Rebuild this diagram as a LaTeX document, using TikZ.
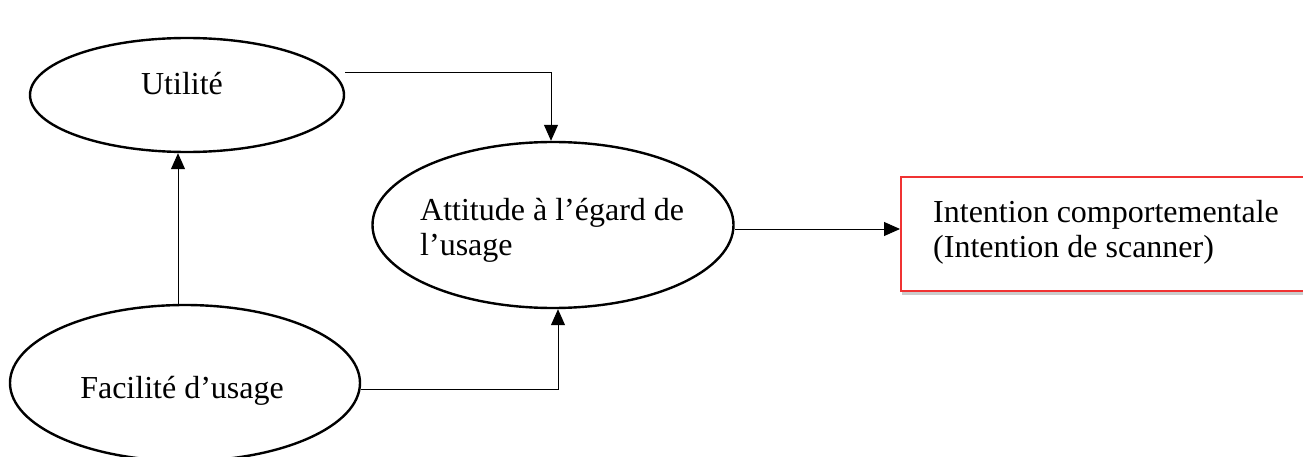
\documentclass[tikz,border=0pt]{standalone}
\usepackage{fontspec}
\setmainfont{Liberation Serif}
\usetikzlibrary{shapes.geometric,shadows,arrows.meta}
\definecolor{boxred}{RGB}{240,50,50}
\begin{document}
\begin{tikzpicture}[x=1pt,y=-1pt,
  ell/.style={draw,ellipse,line width=2.4pt,inner sep=0pt},
  conn/.style={line width=1pt,draw=black,-{Triangle[length=16pt,width=14pt]}},
  lbl/.style={font=\fontsize{32}{35}\selectfont,align=left,inner sep=0pt}]
\useasboundingbox (0,0) rectangle (1303,457);
\node[ell,minimum width=314pt,minimum height=114pt] (u) at (187,95) {};
\node[lbl] (ut) at (182,84) {Utilité};
\node[ell,minimum width=361pt,minimum height=166pt] (a) at (553,225) {};
\node[lbl,anchor=west] (at) at (420,230) {Attitude à l’égard de\\l’usage};
\node[ell,minimum width=350pt,minimum height=156pt] (f) at (185,383) {};
\node[lbl] (ft) at (182,391) {Facilité d’usage};
\node[draw=boxred,line width=2.4pt,fill=white,minimum width=410pt,minimum height=114pt,anchor=north west,
  drop shadow={opacity=0.4,shadow xshift=1pt,shadow yshift=-4pt}] (b) at (900,176) {};
\node[lbl,anchor=west] (bt) at (933,232) {Intention comportementale\\(Intention de scanner)};
\coordinate (c1) at (551,73);
\coordinate (c2) at (558,389);
\draw[conn] (u.east |- c1) -- (c1) -- (c1 |- a.north);
\draw[conn] (f.east |- c2) -- (c2) -- (c2 |- a.south);
\draw[conn] ([xshift=-7pt]f.north) -- ([xshift=-9pt]u.south);
\draw[conn] (a.east |- 0,229) -- (b.west |- 0,229);
\end{tikzpicture}
\end{document}
